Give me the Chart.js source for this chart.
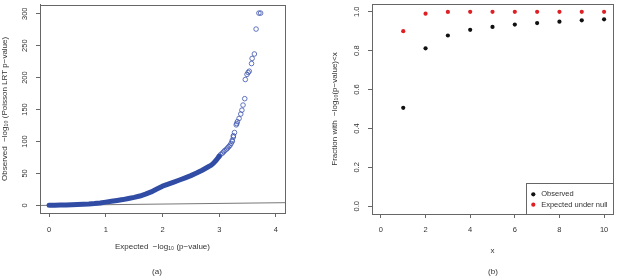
<!DOCTYPE html>
<html>
<head>
<meta charset="utf-8">
<script src="https://cdn.jsdelivr.net/npm/chart.js@4"></script>
<style>
  body { margin: 0; background: #fff; }
  #wrap { position: relative; width: 617px; height: 276px; }
  #left { position: absolute; left: 0; top: 0; }
  #right { position: absolute; left: 310px; top: 0; }
</style>
</head>
<body>
<div id="wrap">
  <canvas id="left" width="310" height="276"></canvas>
  <canvas id="right" width="307" height="276"></canvas>
</div>
<script>
// ---- panel (a): QQ plot ----
// dense part of the curve (expected, observed)
const qqDenseX = [0, 0.1, 0.2, 0.3, 0.4, 0.5, 0.6, 0.7, 0.8, 0.9, 1.0, 1.1, 1.2, 1.3, 1.4, 1.5,
  1.6, 1.7, 1.8, 1.9, 2.0, 2.1, 2.2, 2.3, 2.4, 2.5, 2.6, 2.7, 2.8, 2.86, 2.9, 2.95, 3.0];
const qqDenseY = [0, 0.2, 0.4, 0.6, 0.9, 1.2, 1.6, 2.1, 2.8, 3.8, 5, 6.3, 7.6, 9, 10.7, 12.5,
  14.6, 17.5, 21, 25.5, 30, 33.3, 36.5, 39.7, 43, 46.5, 50.5, 55, 60, 63, 66, 71, 77];
// sparse tail, drawn as open circles
const qqTailX = [3.0, 3.03, 3.06, 3.08, 3.10, 3.13, 3.15, 3.17, 3.19, 3.21, 3.23, 3.23, 3.25, 3.25,
  3.27, 3.30, 3.31, 3.32, 3.35, 3.38, 3.40, 3.42, 3.45, 3.46, 3.49, 3.51, 3.53, 3.57, 3.58, 3.62,
  3.65, 3.70, 3.73];
const qqTailY = [77, 80, 82, 84, 86, 88, 90, 92, 94, 97, 100, 102, 107, 109,
  114, 126, 128, 131, 136, 143, 149, 157, 167, 197, 205, 208, 210, 222, 230, 237,
  276, 301, 301];
const qqXTicks = [0, 1, 2, 3, 4];
const qqYTicks = [0, 50, 100, 150, 200, 250, 300];

// ---- panel (b): fraction below x ----
const fracX = [1, 2, 3, 4, 5, 6, 7, 8, 9, 10];
const fracObserved = [0.506, 0.812, 0.878, 0.907, 0.922, 0.934, 0.942, 0.949, 0.956, 0.961];
const fracExpected = [0.90, 0.99, 0.999, 1.0, 1.0, 1.0, 1.0, 1.0, 1.0, 1.0];
const fracXTicks = [0, 2, 4, 6, 8, 10];
const fracYTicks = [0, 0.2, 0.4, 0.6, 0.8, 1.0];

const FONT = "'Liberation Sans', 'DejaVu Sans', sans-serif";
const FS = 8;      // axis titles
const FT = 7.5;    // tick labels, legend
const TXT = '#333';
const AX = '#666';

function pts(xs, ys) { return xs.map((x, i) => ({x: x, y: ys[i]})); }

// box around plot + rotated y tick labels (R style)
function framePlugin(yLabelX, fmt, caption, captionX) {
  return {
    id: 'frame',
    afterDraw(chart) {
      const c = chart.ctx, a = chart.chartArea, ys = chart.scales.y;
      c.save();
      c.strokeStyle = AX;
      c.lineWidth = 1;
      c.strokeRect(Math.round(a.left) + 0.5, Math.round(a.top) + 0.5,
        Math.round(a.right - a.left), Math.round(a.bottom - a.top));
      c.fillStyle = TXT;
      c.font = FT + 'px ' + FONT;
      c.textAlign = 'center';
      c.textBaseline = 'middle';
      ys.ticks.forEach(t => {
        const py = ys.getPixelForValue(t.value);
        c.save();
        c.translate(yLabelX, py);
        c.rotate(-Math.PI / 2);
        c.fillText(fmt(t.value), 0, 0);
        c.restore();
      });
      c.font = FS + 'px ' + FONT;
      c.fillText(caption, captionX, 272);
      c.restore();
    }
  };
}

function axis(min, max, ticks, size, isX, title, titlePad, tickPad) {
  return {
    type: 'linear',
    min: min, max: max,
    afterBuildTicks: s => { s.ticks = ticks.map(v => ({value: v})); },
    afterFit: s => { if (isX) s.height = size; else s.width = size; },
    grid: { drawOnChartArea: false, drawTicks: true, tickLength: 4, color: AX, tickColor: AX },
    border: { display: true, color: AX },
    ticks: isX ? { color: TXT, font: { family: FONT, size: FT }, padding: tickPad, maxRotation: 0 }
               : { display: false },
    title: { display: true, text: title, color: TXT,
      font: { family: FONT, size: FS, lineHeight: 1 },
      padding: isX ? { top: titlePad, bottom: titlePad } : { top: titlePad, bottom: 0 } }
  };
}

new Chart(document.getElementById('left').getContext('2d'), {
  type: 'scatter',
  data: {
    datasets: [{
      data: pts(qqDenseX, qqDenseY),
      showLine: true,
      borderColor: 'rgb(48,76,165)',
      borderWidth: 5,
      borderCapStyle: 'round',
      borderJoinStyle: 'round',
      pointRadius: 0,
      tension: 0
    }, {
      data: pts(qqTailX, qqTailY),
      pointStyle: 'circle',
      pointRadius: 2.3,
      pointBorderWidth: 0.8,
      pointBorderColor: 'rgb(60,84,175)',
      pointBackgroundColor: 'rgba(0,0,0,0)'
    }, {
      data: [{x: -0.16, y: -0.16}, {x: 4.16, y: 4.16}],
      showLine: true,
      borderColor: '#777',
      borderWidth: 1,
      pointRadius: 0
    }]
  },
  options: {
    responsive: false,
    animation: false,
    layout: { padding: { left: 0, right: 25, top: 0, bottom: 0 } },
    plugins: { legend: { display: false }, tooltip: { enabled: false } },
    scales: {
      x: axis(-0.16, 4.16, qqXTicks, 63, true, 'Expected  \u2212log\u2081\u2080 (p\u2212value)', 25, 8),
      y: axis(-12, 314, qqYTicks, 40, false, 'Observed  \u2212log\u2081\u2080 (Poisson LRT p\u2212value)', 1, 0)
    }
  },
  plugins: [framePlugin(25, v => String(v), '(a)', 157)]
});

const legendPlugin = {
  id: 'boxLegend',
  afterDraw(chart) {
    const c = chart.ctx, a = chart.chartArea;
    const bx = 216, by = 183;
    c.save();
    c.fillStyle = '#fff';
    c.fillRect(bx, by, a.right - bx, a.bottom - by);
    c.strokeStyle = AX;
    c.lineWidth = 1;
    c.strokeRect(bx + 0.5, by + 0.5, Math.round(a.right - bx), Math.round(a.bottom - by));
    c.font = FT + 'px ' + FONT;
    c.textBaseline = 'middle';
    c.textAlign = 'left';
    chart.data.datasets.forEach((ds, i) => {
      const yy = 194.3 + i * 10.4;
      c.fillStyle = ds.pointBackgroundColor;
      c.beginPath();
      c.arc(bx + 7.3, yy, 2.1, 0, Math.PI * 2);
      c.fill();
      c.fillStyle = TXT;
      c.fillText(ds.label, bx + 15.2, yy);
    });
    c.restore();
  }
};

new Chart(document.getElementById('right').getContext('2d'), {
  type: 'scatter',
  data: {
    datasets: [{
      label: 'Observed',
      data: pts(fracX, fracObserved),
      pointRadius: 2.1,
      pointBorderWidth: 0,
      pointBackgroundColor: '#111'
    }, {
      label: 'Expected under null',
      data: pts(fracX, fracExpected),
      pointRadius: 2.1,
      pointBorderWidth: 0,
      pointBackgroundColor: 'rgb(222,32,36)'
    }]
  },
  options: {
    responsive: false,
    animation: false,
    layout: { padding: { left: 0, right: 1, top: 2, bottom: 0 } },
    plugins: { legend: { display: false }, tooltip: { enabled: false } },
    scales: {
      x: axis(-0.4, 10.4, fracXTicks, 62, true, 'x', 21.5, 7),
      y: axis(-0.04, 1.04, fracYTicks, 62, false, 'Fraction with  \u2212log\u2081\u2080(p\u2212value)<x', 21, 0)
    }
  },
  plugins: [framePlugin(46.7, v => v.toFixed(1), '(b)', 183), legendPlugin]
});
</script>
</body>
</html>
